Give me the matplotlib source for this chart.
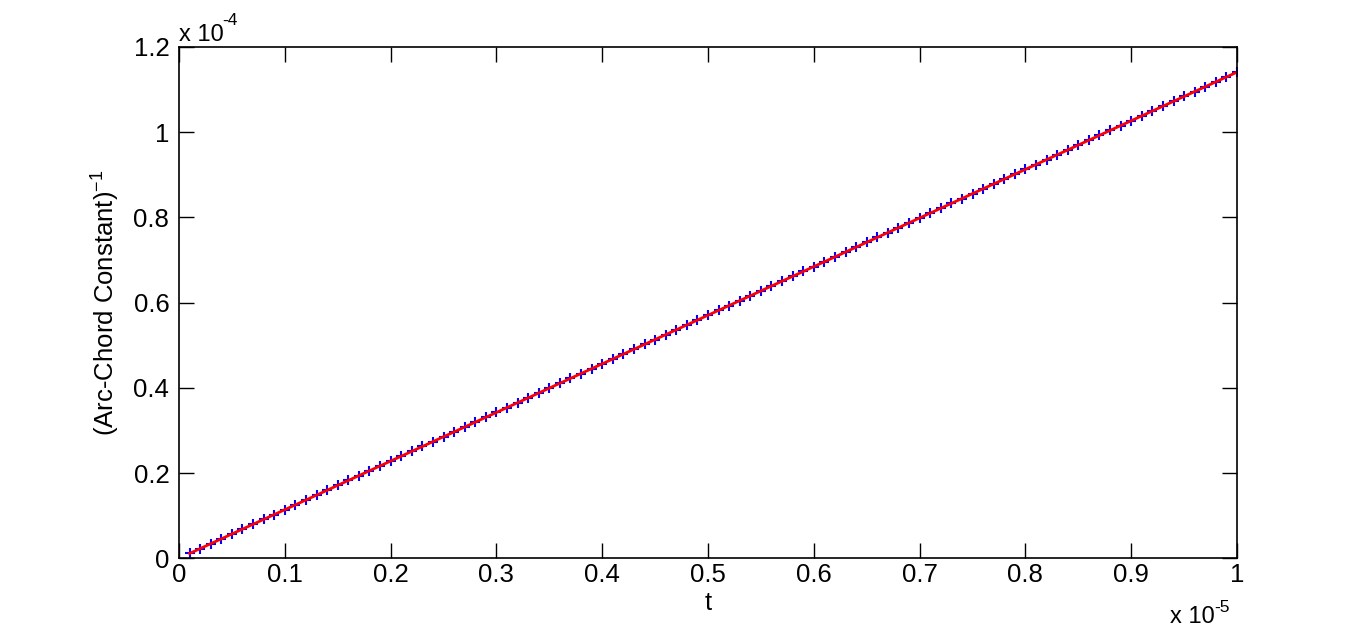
"""Inverse arc-chord constant against t, drawn in the look of a MATLAB figure."""
import matplotlib

matplotlib.use("Agg")
import matplotlib.pyplot as plt

plt.rcParams["font.family"] = ["Liberation Sans", "DejaVu Sans"]
plt.rcParams["mathtext.fontset"] = "custom"
plt.rcParams["mathtext.rm"] = "Liberation Sans"
plt.rcParams["mathtext.default"] = "regular"

# t in units of 1e-5
t_vals = [
    0.01, 0.02, 0.03, 0.04, 0.05, 0.06, 0.07, 0.08, 0.09, 0.10,
    0.11, 0.12, 0.13, 0.14, 0.15, 0.16, 0.17, 0.18, 0.19, 0.20,
    0.21, 0.22, 0.23, 0.24, 0.25, 0.26, 0.27, 0.28, 0.29, 0.30,
    0.31, 0.32, 0.33, 0.34, 0.35, 0.36, 0.37, 0.38, 0.39, 0.40,
    0.41, 0.42, 0.43, 0.44, 0.45, 0.46, 0.47, 0.48, 0.49, 0.50,
    0.51, 0.52, 0.53, 0.54, 0.55, 0.56, 0.57, 0.58, 0.59, 0.60,
    0.61, 0.62, 0.63, 0.64, 0.65, 0.66, 0.67, 0.68, 0.69, 0.70,
    0.71, 0.72, 0.73, 0.74, 0.75, 0.76, 0.77, 0.78, 0.79, 0.80,
    0.81, 0.82, 0.83, 0.84, 0.85, 0.86, 0.87, 0.88, 0.89, 0.90,
    0.91, 0.92, 0.93, 0.94, 0.95, 0.96, 0.97, 0.98, 0.99, 1.00,
]
# (Arc-Chord Constant)^-1 in units of 1e-4
inv_arc_chord = [
    0.0114, 0.0228, 0.0342, 0.0456, 0.0571, 0.0685, 0.0799, 0.0913, 0.1027, 0.1141,
    0.1255, 0.1369, 0.1483, 0.1597, 0.1712, 0.1826, 0.1940, 0.2054, 0.2168, 0.2282,
    0.2396, 0.2510, 0.2624, 0.2738, 0.2853, 0.2967, 0.3081, 0.3195, 0.3309, 0.3423,
    0.3537, 0.3651, 0.3765, 0.3879, 0.3994, 0.4108, 0.4222, 0.4336, 0.4450, 0.4564,
    0.4678, 0.4792, 0.4906, 0.5020, 0.5135, 0.5249, 0.5363, 0.5477, 0.5591, 0.5705,
    0.5819, 0.5933, 0.6047, 0.6161, 0.6276, 0.6390, 0.6504, 0.6618, 0.6732, 0.6846,
    0.6960, 0.7074, 0.7188, 0.7302, 0.7417, 0.7531, 0.7645, 0.7759, 0.7873, 0.7987,
    0.8101, 0.8215, 0.8329, 0.8443, 0.8558, 0.8672, 0.8786, 0.8900, 0.9014, 0.9128,
    0.9242, 0.9356, 0.9470, 0.9584, 0.9699, 0.9813, 0.9927, 1.0041, 1.0155, 1.0269,
    1.0383, 1.0497, 1.0611, 1.0725, 1.0840, 1.0954, 1.1068, 1.1182, 1.1296, 1.1410,
]
x_ticks = [0, 0.1, 0.2, 0.3, 0.4, 0.5, 0.6, 0.7, 0.8, 0.9, 1]
x_ticklabels = ["0", "0.1", "0.2", "0.3", "0.4", "0.5", "0.6", "0.7", "0.8", "0.9", "1"]
y_ticks = [0, 0.2, 0.4, 0.6, 0.8, 1.0, 1.2]
y_ticklabels = ["0", "0.2", "0.4", "0.6", "0.8", "1", "1.2"]

W, H = 1367, 628
fig = plt.figure(figsize=(W / 100, H / 100), dpi=100)
ax = fig.add_axes([179 / W, 1 - 558.3 / H, (1237 - 179) / W, (558.3 - 47) / H])

ax.plot(t_vals, inv_arc_chord, "+", color="#0000ff", markersize=7, markeredgewidth=1.5)
ax.plot(t_vals, inv_arc_chord, "-", color="#ff0000", linewidth=2.0)

ax.set_xlim(0, 1)
ax.set_ylim(0, 1.2)
ax.set_xticks(x_ticks)
ax.set_xticklabels(x_ticklabels)
ax.set_yticks(y_ticks)
ax.set_yticklabels(y_ticklabels)
ax.tick_params(direction="in", length=11, width=1, labelsize=18.5, top=True, right=True)
ax.tick_params(axis="x", pad=3.5)
ax.tick_params(axis="y", pad=7)
for spine in ax.spines.values():
    spine.set_linewidth(1.2)

ax.set_xlabel("t", fontsize=18.5, labelpad=3)
ax.set_ylabel("(Arc-Chord Constant)$^{-1}$", fontsize=18.5, labelpad=8)


def px(x, y):
    """Figure fraction from pixel position measured from the top-left corner."""
    return x / W, 1 - y / H


# MATLAB-style exponent labels, "x 10" with a raised exponent
fig.text(*px(179, 41), "x 10", fontsize=17, ha="left", va="baseline")
fig.text(*px(222, 25), "-4", fontsize=12.5, ha="left", va="baseline")
fig.text(*px(1170, 623), "x 10", fontsize=17, ha="left", va="baseline")
fig.text(*px(1214, 612), "-5", fontsize=12.5, ha="left", va="baseline")

fig.savefig("out.png", dpi=100)
